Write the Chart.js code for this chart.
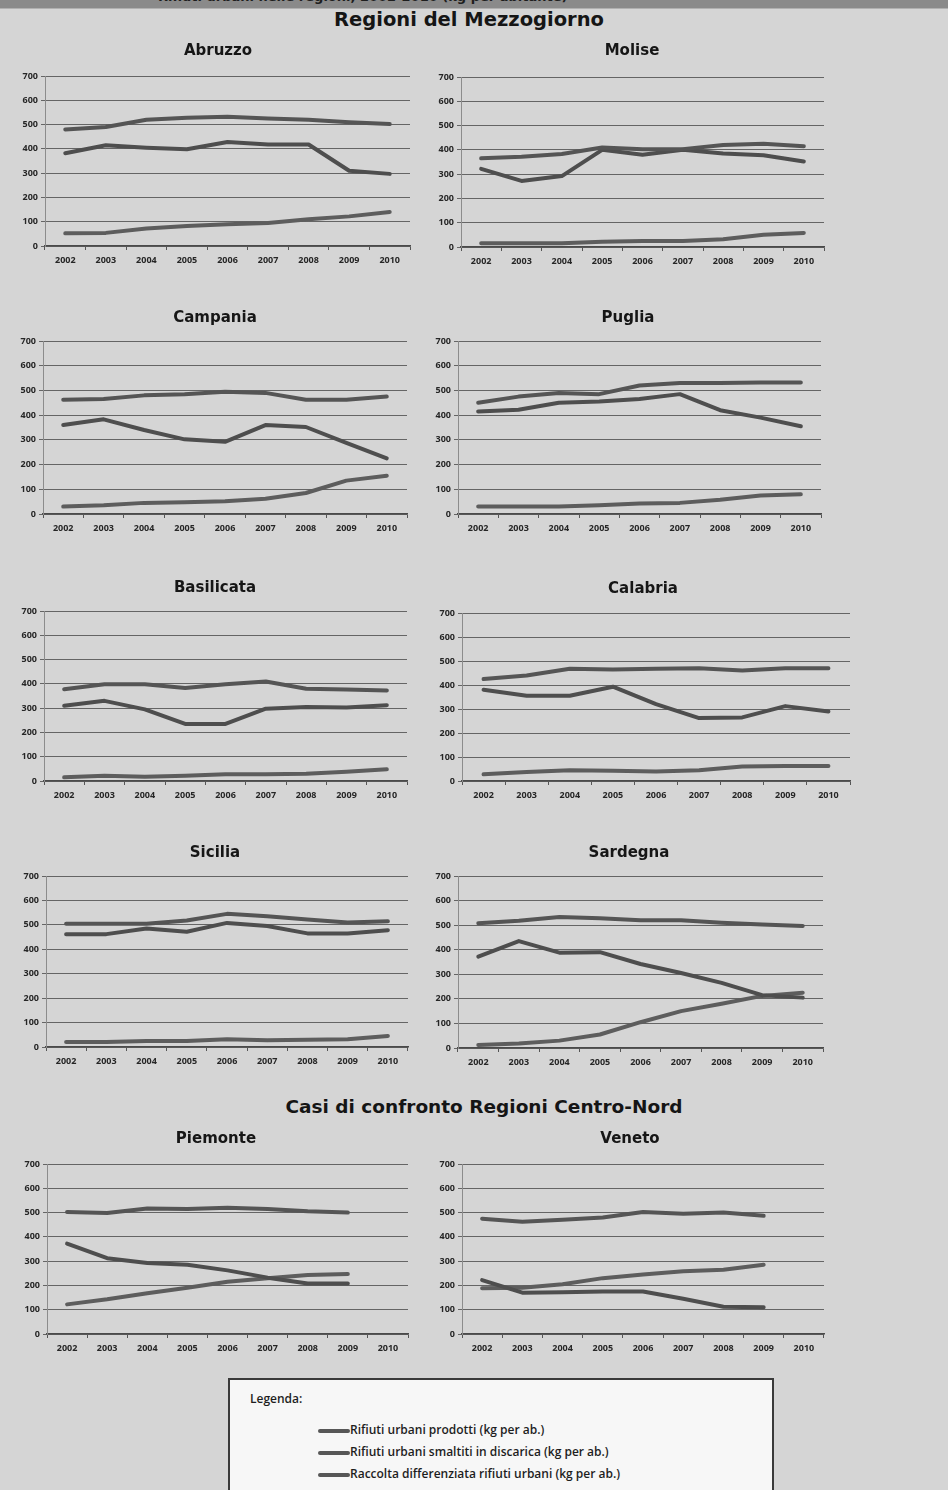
<!DOCTYPE html>
<html>
<head>
<meta charset="utf-8">
<script src="https://cdn.jsdelivr.net/npm/chart.js@4"></script>
<style>
  html, body { margin: 0; padding: 0; }
  body { width: 948px; height: 1490px; position: relative; overflow: hidden;
         background: #d5d5d5; font-family: 'DejaVu Sans', sans-serif; }
  .band { position: absolute; left: 0; top: 0; width: 948px; height: 8px; background: #8a8a8a;
          border-bottom: 1px solid #b0b0b0; overflow: hidden; }
  .band span { position: absolute; left: 158px; top: -11px; font: bold 13px 'DejaVu Sans'; color: #1e1e1e; white-space: nowrap; }
  .head { position: absolute; font: bold 18.5px 'DejaVu Sans'; color: #151515; transform: translate(-50%, -50%); white-space: nowrap; }
  canvas { position: absolute; }
  .legend { position: absolute; left: 228px; top: 1378px; width: 546px; height: 130px; background: #f7f7f7;
            border: 2px solid #3a3a3a; box-sizing: border-box; font-family: 'Open Sans', sans-serif; color: #1e1e1e; }
  .legend .ttl { position: absolute; left: 20px; top: 10px; font-size: 12px; font-weight: 600; }
  .legend .item { position: absolute; left: 88px; font-size: 12px; font-weight: 600; white-space: nowrap; }
  .legend .item i { display: inline-block; width: 32px; height: 4px; background: #575757; vertical-align: middle; margin-right: 0; border-radius: 2px; }
</style>
</head>
<body>
<div class="band"><span>Rifiuti urbani nelle regioni, 2002-2010 (kg per abitante)</span></div>
<div class="head" style="left:469px; top:19px; font-size:19.5px;">Regioni del Mezzogiorno</div>
<div class="head" style="left:484px; top:1106px;">Casi di confronto Regioni Centro-Nord</div>

<div class="legend">
  <div class="ttl">Legenda:</div>
  <div class="item" style="top:41px;"><i></i>Rifiuti urbani prodotti (kg per ab.)</div>
  <div class="item" style="top:63px;"><i></i>Rifiuti urbani smaltiti in discarica (kg per ab.)</div>
  <div class="item" style="top:85px;"><i></i>Raccolta differenziata rifiuti urbani (kg per ab.)</div>
</div>

<script>
const YEARS = ['2002', '2003', '2004', '2005', '2006', '2007', '2008', '2009', '2010'];
const SERIES_NAMES = [
  'Rifiuti urbani prodotti (kg per ab.)',
  'Rifiuti urbani smaltiti in discarica (kg per ab.)',
  'Raccolta differenziata rifiuti urbani (kg per ab.)'
];
const Y_TICKS = [0, 100, 200, 300, 400, 500, 600, 700];

// values (kg per abitante)
const abruzzoProdotti   = [480, 490, 520, 528, 532, 525, 520, 510, 502];
const abruzzoDiscarica  = [382, 415, 405, 398, 428, 418, 418, 310, 297];
const abruzzoDiff       = [52, 54, 72, 82, 90, 95, 110, 122, 140];

const moliseProdotti    = [365, 372, 383, 410, 402, 403, 420, 425, 415];
const moliseDiscarica   = [322, 272, 292, 400, 380, 400, 385, 378, 352];
const moliseDiff        = [15, 15, 15, 22, 25, 25, 32, 50, 58];

const campaniaProdotti  = [462, 465, 480, 485, 495, 490, 462, 462, 475];
const campaniaDiscarica = [360, 383, 340, 302, 292, 360, 352, 288, 225];
const campaniaDiff      = [30, 35, 45, 48, 52, 62, 85, 135, 155];

const pugliaProdotti    = [450, 475, 490, 485, 520, 530, 530, 532, 532];
const pugliaDiscarica   = [415, 422, 450, 455, 465, 485, 420, 390, 355];
const pugliaDiff        = [30, 30, 30, 35, 42, 45, 58, 75, 80];

const basilicataProdotti  = [378, 398, 398, 383, 398, 410, 380, 377, 373];
const basilicataDiscarica = [310, 330, 295, 235, 235, 298, 305, 303, 312];
const basilicataDiff      = [15, 22, 18, 22, 28, 28, 30, 38, 48];

const calabriaProdotti  = [425, 440, 468, 465, 468, 470, 460, 470, 470];
const calabriaDiscarica = [380, 355, 355, 393, 320, 262, 265, 312, 290];
const calabriaDiff      = [28, 38, 45, 43, 40, 45, 60, 62, 62];

const siciliaProdotti   = [505, 505, 505, 518, 545, 535, 522, 510, 515];
const siciliaDiscarica  = [462, 462, 485, 472, 508, 495, 465, 465, 478];
const siciliaDiff       = [20, 20, 25, 25, 32, 28, 30, 32, 45];

const sardegnaProdotti  = [508, 518, 533, 528, 520, 520, 510, 503, 497];
const sardegnaDiscarica = [372, 435, 388, 390, 342, 305, 265, 215, 205];
const sardegnaDiff      = [12, 18, 30, 55, 105, 150, 180, 212, 225];

const piemonteProdotti  = [502, 498, 517, 515, 520, 515, 505, 500, null];
const piemonteDiscarica = [372, 312, 292, 285, 262, 232, 208, 208, null];
const piemonteDiff      = [122, 143, 168, 190, 215, 230, 243, 247, null];

const venetoProdotti    = [475, 462, 470, 480, 502, 495, 500, 487, null];
const venetoDiscarica   = [222, 170, 172, 175, 175, 145, 112, 110, null];
const venetoDiff        = [188, 190, 205, 230, 245, 258, 265, 285, null];

// plot area of each panel on the page: left/right of the category band,
// top (700 line) and bottom (0 line), title centre
const PANELS = [
  { name: 'Abruzzo',    data: [abruzzoProdotti, abruzzoDiscarica, abruzzoDiff],          L: 45,  R: 410, T: 76,   B: 246,  tx: 218, ty: 49 },
  { name: 'Molise',     data: [moliseProdotti, moliseDiscarica, moliseDiff],             L: 461, R: 824, T: 77,   B: 247,  tx: 632, ty: 49 },
  { name: 'Campania',   data: [campaniaProdotti, campaniaDiscarica, campaniaDiff],       L: 43,  R: 407, T: 341,  B: 514,  tx: 215, ty: 316 },
  { name: 'Puglia',     data: [pugliaProdotti, pugliaDiscarica, pugliaDiff],             L: 458, R: 821, T: 341,  B: 514,  tx: 628, ty: 316 },
  { name: 'Basilicata', data: [basilicataProdotti, basilicataDiscarica, basilicataDiff], L: 44,  R: 407, T: 611,  B: 781,  tx: 215, ty: 586 },
  { name: 'Calabria',   data: [calabriaProdotti, calabriaDiscarica, calabriaDiff],       L: 462, R: 850, T: 613,  B: 781,  tx: 643, ty: 587 },
  { name: 'Sicilia',    data: [siciliaProdotti, siciliaDiscarica, siciliaDiff],          L: 46,  R: 408, T: 876,  B: 1047, tx: 215, ty: 851 },
  { name: 'Sardegna',   data: [sardegnaProdotti, sardegnaDiscarica, sardegnaDiff],       L: 458, R: 823, T: 876,  B: 1048, tx: 629, ty: 851 },
  { name: 'Piemonte',   data: [piemonteProdotti, piemonteDiscarica, piemonteDiff],       L: 47,  R: 408, T: 1164, B: 1334, tx: 216, ty: 1137 },
  { name: 'Veneto',     data: [venetoProdotti, venetoDiscarica, venetoDiff],             L: 462, R: 824, T: 1164, B: 1334, tx: 630, ty: 1137 },
];

const LINE_COLORS = ['#555555', '#4e4e4e', '#5d5d5d'];
const Y_AXIS_W = 36;
const X_AXIS_H = 26;
const TITLE_LINE = 18;
const TITLE_PAD_TOP = 6;
const TITLE_NUDGE = 2; // glyphs sit a little high in the line box

Chart.defaults.font.family = "'Open Sans', sans-serif";
Chart.defaults.color = '#222';

PANELS.forEach((p, i) => {
  // the canvas is centred on the title, so the empty band right of the plot
  // is taken up by a blank right-hand axis
  const canvasLeft = p.L - Y_AXIS_W;
  const width = Math.round(2 * (p.tx - canvasLeft));
  const rightGap = canvasLeft + width - p.R;
  const canvasTop = p.ty + TITLE_NUDGE - TITLE_LINE / 2 - TITLE_PAD_TOP;
  const height = p.B + X_AXIS_H - canvasTop;

  const cv = document.createElement('canvas');
  cv.id = 'chart-' + i;
  cv.style.left = canvasLeft + 'px';
  cv.style.top = canvasTop + 'px';
  cv.style.width = width + 'px';
  cv.style.height = height + 'px';
  cv.width = width; cv.height = height;
  document.body.appendChild(cv);

  new Chart(cv, {
    type: 'line',
    data: {
      labels: YEARS,
      datasets: SERIES_NAMES.map((label, k) => ({
        label,
        data: p.data[k],
        borderColor: LINE_COLORS[k],
        borderWidth: 4,
        pointRadius: 0,
        tension: 0,
        borderJoinStyle: 'round',
        borderCapStyle: 'round',
        spanGaps: false,
        yAxisID: 'y',
      }))
    },
    options: {
      responsive: false, animation: false,
      layout: { padding: 0 },
      plugins: {
        legend: { display: false },
        tooltip: { enabled: false },
        title: {
          display: true, text: p.name, color: '#161616',
          font: { family: "'DejaVu Sans', sans-serif", size: 15, weight: 'bold', lineHeight: TITLE_LINE / 15 },
          padding: { top: TITLE_PAD_TOP, bottom: p.T - canvasTop - TITLE_PAD_TOP - TITLE_LINE }
        }
      },
      scales: {
        x: {
          offset: true,
          grid: { offset: true, drawOnChartArea: false, drawTicks: true, tickLength: 4, color: '#555' },
          border: { display: true, color: '#4a4a4a', width: 1.5 },
          ticks: { padding: 5, maxRotation: 0, autoSkip: false, font: { size: 9, weight: 'bold' }, color: '#262626' },
          afterFit: s => { s.height = X_AXIS_H; }
        },
        y: {
          min: 0, max: 700,
          afterBuildTicks: s => { s.ticks = Y_TICKS.map(v => ({ value: v })); },
          grid: { color: '#656565', lineWidth: 1, drawTicks: true, tickLength: 4 },
          border: { display: true, color: '#8c8c8c', width: 1 },
          ticks: { padding: 3, font: { size: 9, weight: 'bold' }, color: '#262626' },
          afterFit: s => { s.width = Y_AXIS_W; }
        },
        yRight: {
          position: 'right', min: 0, max: 700,
          grid: { display: false, drawTicks: false },
          border: { display: false },
          ticks: { display: false },
          afterFit: s => { s.width = rightGap; }
        }
      }
    }
  });
});
</script>
</body>
</html>
